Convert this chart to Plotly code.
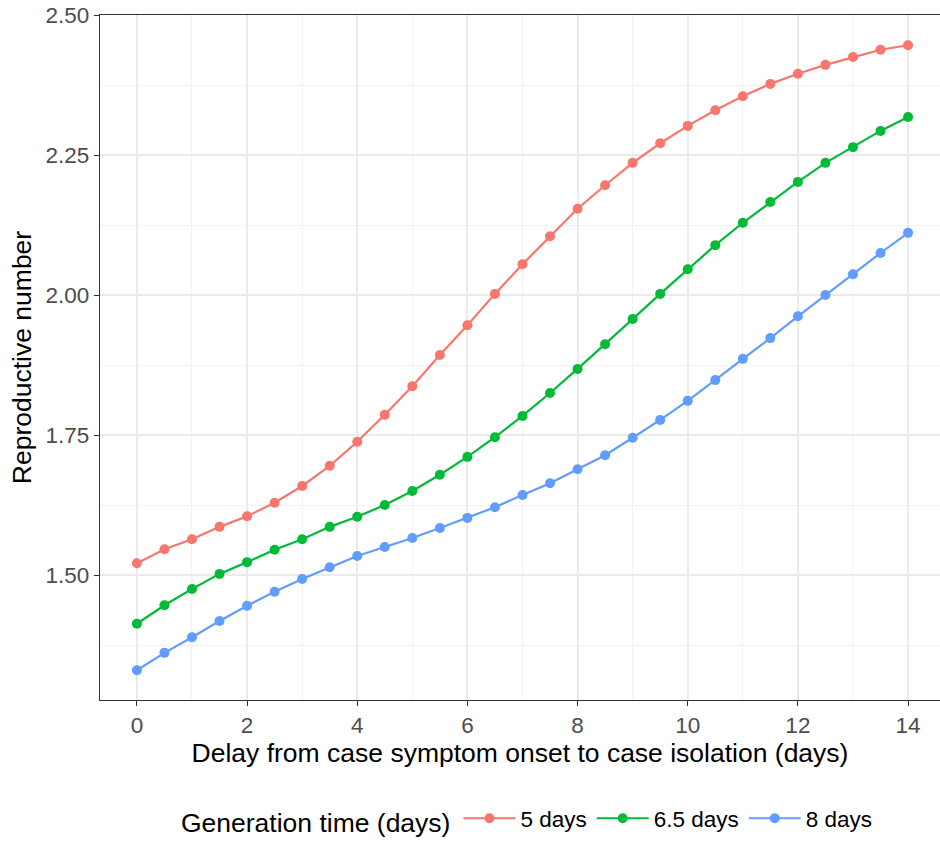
import plotly.graph_objects as go

delay_days = [0, 0.5, 1, 1.5, 2, 2.5, 3, 3.5, 4, 4.5, 5, 5.5, 6, 6.5, 7, 7.5,
              8, 8.5, 9, 9.5, 10, 10.5, 11, 11.5, 12, 12.5, 13, 13.5, 14]

r_5days = [1.521, 1.546, 1.564, 1.586, 1.605, 1.629, 1.659, 1.695, 1.738, 1.786,
           1.837, 1.893, 1.946, 2.002, 2.055, 2.105, 2.154, 2.196, 2.236, 2.271,
           2.302, 2.330, 2.355, 2.377, 2.395, 2.411, 2.425, 2.438, 2.446]

r_6_5days = [1.413, 1.446, 1.475, 1.502, 1.523, 1.545, 1.564, 1.586, 1.604, 1.625,
             1.650, 1.679, 1.711, 1.746, 1.784, 1.825, 1.868, 1.912, 1.957, 2.002,
             2.046, 2.089, 2.129, 2.166, 2.202, 2.236, 2.264, 2.293, 2.318]

r_8days = [1.330, 1.361, 1.389, 1.418, 1.445, 1.470, 1.493, 1.514, 1.534, 1.550,
           1.566, 1.584, 1.602, 1.621, 1.643, 1.664, 1.689, 1.714, 1.745, 1.777,
           1.811, 1.848, 1.886, 1.923, 1.962, 2.000, 2.037, 2.075, 2.111]

series = [
    ("5 days", r_5days, "#F8766D"),
    ("6.5 days", r_6_5days, "#00BA38"),
    ("8 days", r_8days, "#619CFF"),
]

FONT = "Liberation Sans, Arial, sans-serif"

fig = go.Figure()
for name, vals, col in series:
    fig.add_trace(
        go.Scatter(
            x=delay_days,
            y=vals,
            mode="lines+markers",
            name=name,
            line=dict(color=col, width=2.2),
            marker=dict(color=col, size=10),
        )
    )

axis_common = dict(
    showgrid=True,
    gridcolor="#EBEBEB",
    gridwidth=2,
    zeroline=False,
    showline=True,
    linecolor="#333333",
    linewidth=1.2,
    mirror=True,
    ticks="outside",
    ticklen=5,
    tickwidth=1.2,
    tickcolor="#333333",
    tickfont=dict(family=FONT, size=22.5, color="#4D4D4D"),
    automargin=False,
)

fig.update_xaxes(
    **axis_common,
    range=[-0.67, 14.58],
    tickvals=[0, 2, 4, 6, 8, 10, 12, 14],
    title=dict(text="Delay from case symptom onset to case isolation (days)",
               font=dict(family=FONT, size=26.5, color="black"), standoff=4),
)
fig.update_yaxes(
    **axis_common,
    range=[1.2768, 2.5],
    tickvals=[1.5, 1.75, 2.0, 2.25, 2.5],
    ticktext=["1.50", "1.75", "2.00", "2.25", "2.50"],
    title=dict(text="Reproductive number",
               font=dict(family=FONT, size=26.5, color="black"), standoff=6),
)
fig.update_xaxes(minor=dict(tickvals=[1, 3, 5, 7, 9, 11, 13], ticks="",
                            showgrid=True, gridcolor="#F2F2F2", gridwidth=1))
fig.update_yaxes(minor=dict(tickvals=[1.375, 1.625, 1.875, 2.125, 2.375], ticks="",
                            showgrid=True, gridcolor="#F2F2F2", gridwidth=1))

fig.update_layout(
    width=940,
    height=843,
    margin=dict(l=100, r=0, t=15, b=143),
    paper_bgcolor="white",
    plot_bgcolor="white",
    font=dict(family=FONT, color="black"),
    legend=dict(
        orientation="h",
        x=0.51,
        xanchor="center",
        y=-0.2075,
        yanchor="bottom",
        title=dict(text="Generation time (days)", font=dict(size=26.5), side="left"),
        font=dict(size=22.5),
        itemwidth=52,
    ),
)

fig.write_html("out.html", config={"displayModeBar": False},
               post_script="document.body.style.margin='0';")
